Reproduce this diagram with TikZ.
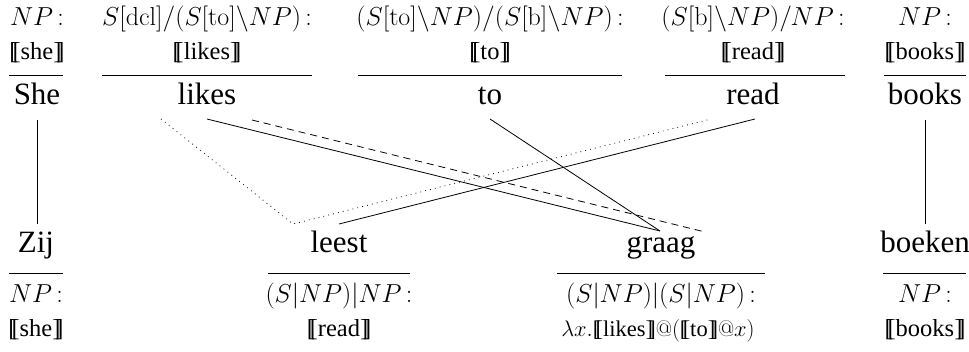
\RequirePackage{fix-cm}
\documentclass[tikz,border=0pt]{standalone}
\usepackage[no-math]{fontspec}
\setmainfont{Liberation Serif}
\newcommand\sem[1]{[\kern-0.21em[#1]\kern-0.21em]}
\newcommand\cl{\mskip3mu{:}}
\begin{document}
\begin{tikzpicture}[x=1pt,y=-1pt,
  word/.style={anchor=base,inner sep=0pt,font=\fontsize{31}{36}\selectfont},
  cat/.style={anchor=base,inner sep=0pt,font=\fontsize{26}{30}\selectfont},
  semt/.style={anchor=base,inner sep=0pt,font=\fontsize{24.5}{28}\selectfont},
  bar/.style={line width=0.9pt},
  link/.style={line width=0.8pt},
  dashlink/.style={line width=0.8pt,dash pattern=on 7pt off 5pt},
  dotlink/.style={line width=0.8pt,dash pattern=on 0.8pt off 4.2pt}]
\useasboundingbox (0,0) rectangle (969,351);
% top row
\node[cat] (c1) at (37,25) {$NP\cl$};
\node[semt] (s1) at (37,59) {\sem{she}};
\node[word] (w1) at (37,104) {She};
\draw[bar] (9,75.5) -- (63,75.5);
\node[cat] (c2) at (207,25) {$S[\mathrm{dcl}]/(S[\mathrm{to}]\backslash NP)\cl$};
\node[semt] (s2) at (207,59) {\sem{likes}};
\node[word] (w2) at (207,104) {likes};
\draw[bar] (102,75.5) -- (312,75.5);
\node[cat] (c3) at (490,25) {$(S[\mathrm{to}]\backslash NP)/(S[\mathrm{b}]\backslash NP)\cl$};
\node[semt] (s3) at (490,59) {\sem{to}};
\node[word] (w3) at (490,104) {to};
\draw[bar] (358,75.5) -- (622,75.5);
\node[cat] (c4) at (753,25) {$(S[\mathrm{b}]\backslash NP)/NP\cl$};
\node[semt] (s4) at (753,59) {\sem{read}};
\node[word] (w4) at (753,104) {read};
\draw[bar] (665,75.5) -- (845,75.5);
\node[cat] (c5) at (925,25) {$NP\cl$};
\node[semt] (s5) at (925,59) {\sem{books}};
\node[word] (w5) at (925,104) {books};
\draw[bar] (884,75.5) -- (966,75.5);
% bottom row
\node[word] (b1) at (36,252) {Zij};
\draw[bar] (9,273) -- (63,273);
\node[cat] (d1) at (36,302) {$NP\cl$};
\node[semt] (e1) at (36,336) {\sem{she}};
\node[word] (b2) at (339,252) {leest};
\draw[bar] (268,273) -- (410,273);
\node[cat] (d2) at (339,302) {$(S|NP)|NP\cl$};
\node[semt] (e2) at (339,336) {\sem{read}};
\node[word] (b3) at (661,252) {graag};
\draw[bar] (557,273) -- (765,273);
\node[cat] (d3) at (661,302) {$(S|NP)|(S|NP)\cl$};
\node[semt,font=\fontsize{22.5}{26}\selectfont] (e3) at (658,336) {$\lambda x.\mbox{\sem{likes}}@(\mbox{\sem{to}}@x)$};
\node[word] (b4) at (925,252) {boeken};
\draw[bar] (883,273) -- (966,273);
\node[cat] (d4) at (925,302) {$NP\cl$};
\node[semt] (e4) at (925,336) {\sem{books}};
% connector end points
\coordinate (sheB) at (37,120);
\coordinate (zijT) at (37,224);
\coordinate (booksB) at (925,120);
\coordinate (boekenT) at (925,224);
\coordinate (likesA) at (161,119);
\coordinate (likesB) at (207,119);
\coordinate (likesC) at (252,120);
\coordinate (toB) at (490,119);
\coordinate (readA) at (711,119);
\coordinate (readB) at (755,119);
\coordinate (leestA) at (293,224);
\coordinate (leestB) at (339,224);
\coordinate (graagA) at (660,231);
\coordinate (graagB) at (705,232);
% connectors
\draw[link] (sheB) -- (zijT);
\draw[link] (booksB) -- (boekenT);
\draw[link] (likesB) -- (graagA);
\draw[link] (toB) -- (graagA);
\draw[link] (readB) -- (leestB);
\draw[dashlink] (likesC) -- (graagB);
\draw[dotlink] (likesA) -- (leestA) -- (readA);
\end{tikzpicture}
\end{document}
